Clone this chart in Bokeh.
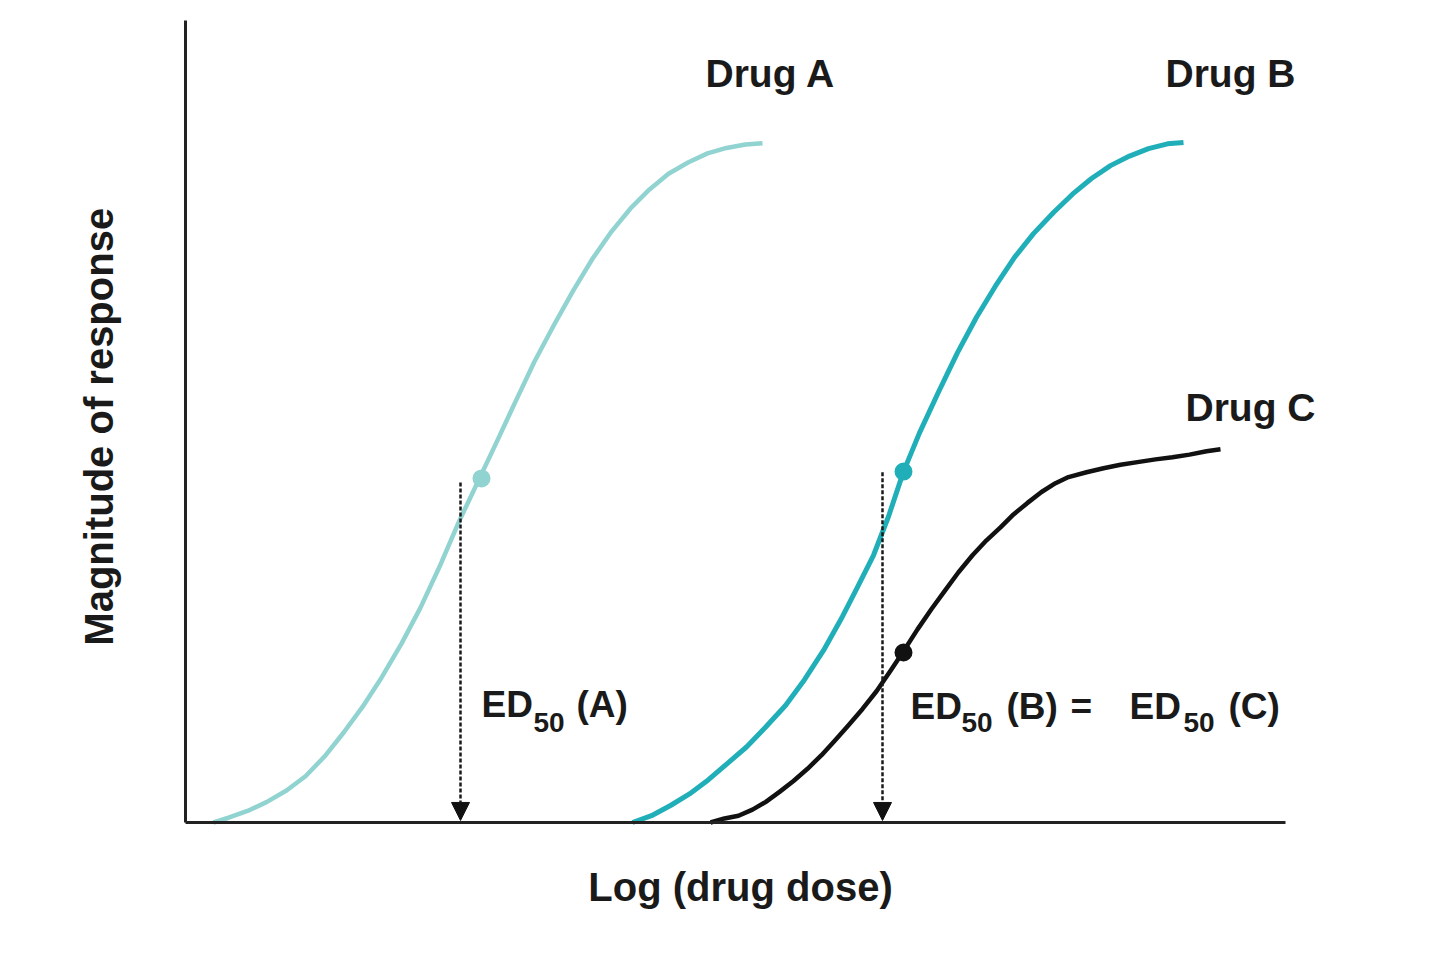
import math
from bokeh.plotting import figure
from bokeh.models import Range1d, Label, Arrow, NormalHead, FixedTicker
from bokeh.embed import file_html
from bokeh.resources import INLINE

# ---- data (x = log dose, y = % of max response) ----
drug_a_logdose = [0.28, 0.43, 0.62, 0.81, 1.01, 1.20, 1.39, 1.58, 1.77, 1.96, 2.16, 2.35,
                  2.54, 2.73, 2.92, 3.11, 3.30, 3.49, 3.69, 3.88, 4.07, 4.26, 4.45, 4.64,
                  4.83, 5.03, 5.22, 5.41, 5.60, 5.77]
drug_a_response = [0.0, 0.7, 1.7, 3.0, 4.7, 6.8, 9.7, 13.2, 17.0, 21.3, 26.3, 31.6,
                   37.6, 44.1, 50.0, 55.9, 61.9, 67.8, 73.3, 78.3, 82.9, 86.9, 90.3, 93.1,
                   95.4, 97.1, 98.4, 99.2, 99.7, 99.9]

drug_b_logdose = [4.47, 4.66, 4.85, 5.04, 5.23, 5.42, 5.61, 5.80, 6.00, 6.19, 6.38, 6.57,
                  6.72, 6.88, 7.03, 7.18, 7.34, 7.53, 7.72, 7.91, 8.10, 8.29, 8.48, 8.68,
                  8.87, 9.06, 9.25, 9.44, 9.63, 9.82, 9.98]
drug_b_response = [0.0, 1.0, 2.5, 4.2, 6.3, 8.7, 11.1, 14.0, 17.2, 21.0, 25.3, 30.3,
                   34.6, 39.3, 45.0, 51.6, 57.3, 63.3, 69.1, 74.3, 78.9, 83.1, 86.6, 89.7,
                   92.4, 94.7, 96.6, 98.0, 99.1, 99.8, 100.0]

drug_c_logdose = [5.25, 5.39, 5.53, 5.67, 5.80, 5.94, 6.08, 6.22, 6.36, 6.49, 6.63, 6.77,
                  6.91, 7.04, 7.18, 7.32, 7.46, 7.60, 7.73, 7.87, 8.01, 8.15, 8.28, 8.42,
                  8.56, 8.70, 8.83, 9.01, 9.18, 9.35, 9.52, 9.70, 9.87, 10.04, 10.21, 10.35]
drug_c_response = [0.0, 0.6, 1.0, 1.9, 3.0, 4.5, 6.1, 7.9, 9.9, 12.0, 14.3, 16.7,
                   19.3, 22.1, 25.2, 28.4, 31.4, 34.2, 36.8, 39.3, 41.5, 43.4, 45.3, 47.0,
                   48.6, 49.9, 50.8, 51.5, 52.1, 52.6, 53.0, 53.4, 53.7, 54.1, 54.6, 54.9]

ed50_dot_x = [2.96, 7.18, 7.18]
ed50_dot_y = [50.6, 51.6, 25.0]

ed50_arrow_x = [2.75, 6.97]
ed50_arrow_top = [50.0, 51.5]

drug_names = ["Drug A", "Drug B", "Drug C"]
x_title = "Log (drug dose)"
y_title = "Magnitude of response"

# ---- styles ----
COL_A = "#90d3d0"
COL_B = "#20afb8"
COL_C = "#111111"
TXT = "#1a1a1a"
FONT = "Liberation Sans"
PX_X = 100.0   # pixels per x unit
PX_Y = 6.8     # pixels per y unit

p = figure(width=1440, height=964,
           x_range=Range1d(-185 / PX_X, (1440 - 185) / PX_X),
           y_range=Range1d(-(964 - 822) / PX_Y, 822 / PX_Y),
           output_backend="svg", toolbar_location=None, min_border=0)
p.outline_line_color = None
p.xgrid.visible = False
p.ygrid.visible = False
p.background_fill_color = "white"
p.border_fill_color = "white"

for ax in (p.xaxis[0], p.yaxis[0]):
    ax.ticker = FixedTicker(ticks=[])
    ax.major_tick_line_color = None
    ax.minor_tick_line_color = None
    ax.major_tick_out = 0
    ax.major_tick_in = 0
    ax.minor_tick_out = 0
    ax.minor_tick_in = 0
    ax.major_label_text_font_size = "0px"
    ax.major_label_standoff = 0
    ax.axis_line_width = 3
    ax.axis_line_color = "#222222"
    ax.fixed_location = 0

p.xaxis.bounds = (0, 11)
p.yaxis.bounds = (0, (822 - 20) / PX_Y)

p.line(drug_a_logdose, drug_a_response, line_color=COL_A, line_width=4.5, line_join="round")
p.line(drug_b_logdose, drug_b_response, line_color=COL_B, line_width=5, line_join="round")
p.line(drug_c_logdose, drug_c_response, line_color=COL_C, line_width=4.5, line_join="round")

p.scatter(ed50_dot_x, ed50_dot_y, size=18, color=[COL_A, COL_B, COL_C], line_color=None)

for xa, top in zip(ed50_arrow_x, ed50_arrow_top):
    p.add_layout(Arrow(x_start=xa, y_start=top, x_end=xa, y_end=0.3,
                       line_color="#1a1a1a", line_width=2.5, line_dash="4 2",
                       end=NormalHead(size=18, fill_color="#111111", line_color="#111111")))


def lab(text, x, y, size, align="left", angle=0.0):
    p.add_layout(Label(x=x, y=y, text=text, text_font=FONT, text_font_style="bold",
                       text_font_size=size, text_color=TXT, angle=angle,
                       text_align=align, text_baseline="alphabetic"))


# axis titles
lab(x_title, 5.55, -9.55, "40px", align="center")
lab(y_title, -0.864, 58.2, "40px", align="center", angle=math.pi / 2)

# curve names
lab(drug_names[0], 5.20, 110.2, "39px")
lab(drug_names[1], 9.80, 110.2, "39px")
lab(drug_names[2], 10.00, 61.1, "39px")

# ED50 labels: main text + subscript pieces
BIG = "37px"
SUB = "28px"
lab("ED", 2.96, 17.3, BIG)
lab("50", 3.48, 14.7, SUB)
lab("(A)", 3.91, 17.3, BIG)

lab("ED", 7.25, 17.1, BIG)
lab("50", 7.76, 14.7, SUB)
lab("(B)", 8.21, 17.1, BIG)
lab("=", 8.85, 17.1, BIG)
lab("ED", 9.44, 17.1, BIG)
lab("50", 9.98, 14.7, SUB)
lab("(C)", 10.43, 17.1, BIG)

open("out.html", "w").write(file_html(p, INLINE))
